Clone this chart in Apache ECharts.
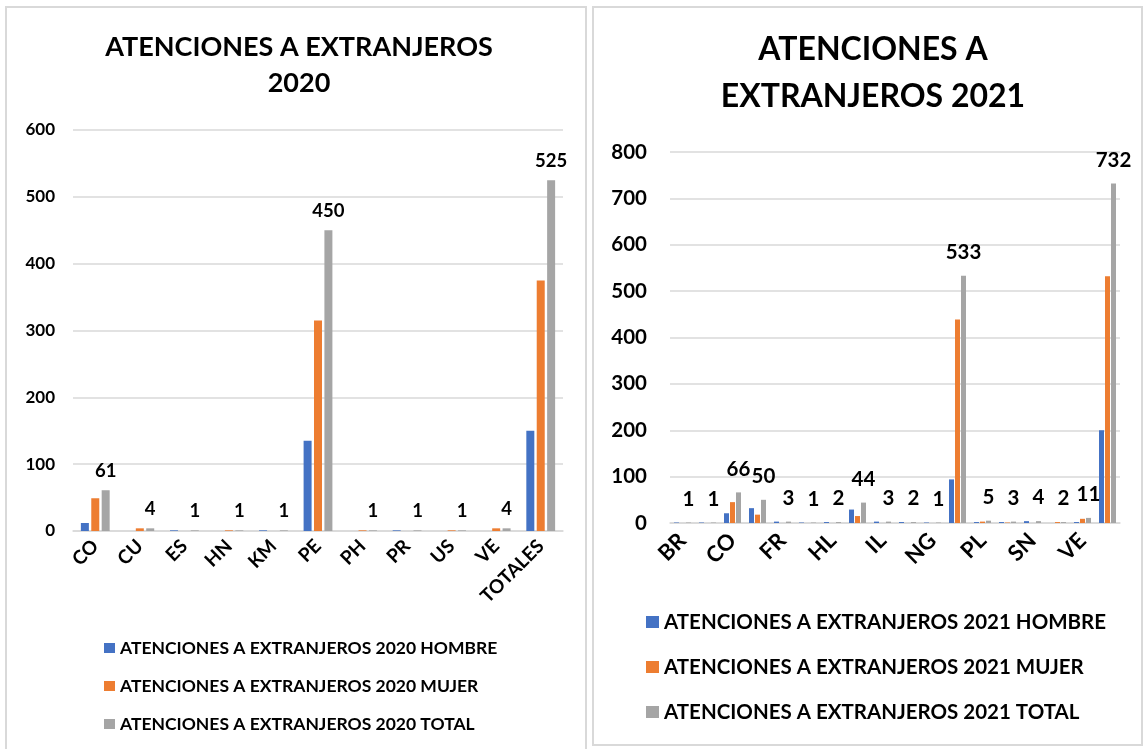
<!DOCTYPE html>
<html>
<head>
<meta charset="utf-8">
<script src="https://cdn.jsdelivr.net/npm/echarts@6/dist/echarts.min.js"></script>
<style>
  html, body { margin: 0; padding: 0; background: #fff; }
  #main { width: 1145px; height: 749px; }
</style>
</head>
<body>
<div id="main"></div>
<script>
  var cats2020 = ['CO', 'CU', 'ES', 'HN', 'KM', 'PE', 'PH', 'PR', 'US', 'VE', 'TOTALES'];
  var hombre2020 = [12, 0, 1, 0, 1, 135, 0, 1, 0, 0, 150];
  var mujer2020 = [49, 4, 0, 1, 0, 315, 1, 0, 1, 4, 375];
  var total2020 = [61, 4, 1, 1, 1, 450, 1, 1, 1, 4, 525];

  var cats2021 = ['BR', 'CL', 'CO', 'CU', 'FR', 'GT', 'HL', 'HN', 'IL', 'KM', 'NG', 'PE', 'PL', 'PR', 'SN', 'US', 'VE', 'TOTALES'];
  var hombre2021 = [1, 1, 21, 32, 3, 1, 2, 29, 3, 2, 1, 94, 2, 2, 4, 0, 2, 200];
  var mujer2021 = [0, 0, 45, 18, 0, 0, 0, 15, 0, 0, 0, 439, 3, 1, 0, 2, 9, 532];
  var total2021 = [1, 1, 66, 50, 3, 1, 2, 44, 3, 2, 1, 533, 5, 3, 4, 2, 11, 732];

  var names2020 = ['ATENCIONES A EXTRANJEROS 2020 HOMBRE', 'ATENCIONES A EXTRANJEROS 2020 MUJER', 'ATENCIONES A EXTRANJEROS 2020 TOTAL'];
  var names2021 = ['ATENCIONES A EXTRANJEROS 2021 HOMBRE', 'ATENCIONES A EXTRANJEROS 2021 MUJER', 'ATENCIONES A EXTRANJEROS 2021 TOTAL'];

  var colors = ['#4472C4', '#ED7D31', '#A5A5A5'];
  var FONT = 'Lato';

  var chart = echarts.init(document.getElementById('main'));

  function barSeries(name, data, xi, bw, gap, showLabel, labelSize, dist) {
    return {
      name: name,
      type: 'bar',
      xAxisIndex: xi,
      yAxisIndex: xi,
      data: data,
      barWidth: bw,
      barGap: gap,
      label: {
        show: showLabel,
        position: 'top',
        distance: dist,
        fontFamily: FONT,
        fontWeight: 'bold',
        fontSize: labelSize,
        color: '#000'
      }
    };
  }

  var axisText = function (size) {
    return { fontFamily: FONT, fontWeight: 'bold', fontSize: size, color: '#000' };
  };

  var option = {
    color: colors,
    animation: false,
    graphic: [
      { type: 'rect', shape: { x: 6, y: 7, width: 580, height: 760 }, style: { fill: 'none', stroke: '#d9d9d9', lineWidth: 2 } },
      { type: 'rect', shape: { x: 593, y: 7, width: 549, height: 738 }, style: { fill: 'none', stroke: '#d9d9d9', lineWidth: 2 } }
    ],
    title: [
      {
        text: 'ATENCIONES A EXTRANJEROS\n2020',
        left: 299, top: 29, textAlign: 'center', padding: 0,
        textStyle: { fontFamily: FONT, fontWeight: 'bold', fontSize: 27, lineHeight: 36, color: '#000' }
      },
      {
        text: 'ATENCIONES A\nEXTRANJEROS 2021',
        left: 873, top: 26, textAlign: 'center', padding: 0,
        textStyle: { fontFamily: FONT, fontWeight: 'bold', fontSize: 32, lineHeight: 47, color: '#000' }
      }
    ],
    legend: [
      {
        data: names2020, orient: 'vertical', left: 104, top: 639, padding: 0,
        itemWidth: 11, itemHeight: 10, itemGap: 20, icon: 'rect',
        textStyle: { fontFamily: FONT, fontWeight: 'bold', fontSize: 17.5, lineHeight: 18, color: '#000' }
      },
      {
        data: names2021, orient: 'vertical', left: 646, top: 611, padding: 0,
        itemWidth: 13, itemHeight: 12, itemGap: 23, icon: 'rect',
        textStyle: { fontFamily: FONT, fontWeight: 'bold', fontSize: 20.5, lineHeight: 22, color: '#000' }
      }
    ],
    grid: [
      { left: 73, top: 130, width: 490, height: 401, containLabel: false },
      { left: 670, top: 152, width: 450, height: 371, containLabel: false }
    ],
    xAxis: [
      {
        type: 'category', gridIndex: 0, data: cats2020,
        axisLine: { lineStyle: { color: '#d9d9d9', width: 1.5 } },
        axisTick: { show: false },
        axisLabel: Object.assign({ rotate: 45, margin: 12, interval: 0 }, axisText(19))
      },
      {
        type: 'category', gridIndex: 1, data: cats2021,
        axisLine: { lineStyle: { color: '#d9d9d9', width: 1.5 } },
        axisTick: { show: false },
        axisLabel: Object.assign({ rotate: 45, margin: 14, interval: 1 }, axisText(22))
      }
    ],
    yAxis: [
      {
        type: 'value', gridIndex: 0, min: 0, max: 600, interval: 100,
        axisLine: { show: false }, axisTick: { show: false },
        splitLine: { lineStyle: { color: '#d9d9d9', width: 1.5 } },
        axisLabel: Object.assign({ margin: 18 }, axisText(17))
      },
      {
        type: 'value', gridIndex: 1, min: 0, max: 800, interval: 100,
        axisLine: { show: false }, axisTick: { show: false },
        splitLine: { lineStyle: { color: '#d9d9d9', width: 1.5 } },
        axisLabel: Object.assign({ margin: 23 }, axisText(20.5))
      }
    ],
    series: [
      barSeries(names2020[0], hombre2020, 0, 8, '30%', false, 18.5, 10),
      barSeries(names2020[1], mujer2020, 0, 8, '30%', false, 18.5, 10),
      barSeries(names2020[2], total2020, 0, 8, '30%', true, 18.5, 10),
      barSeries(names2021[0], hombre2021, 1, 5, '20%', false, 20.5, 13),
      barSeries(names2021[1], mujer2021, 1, 5, '20%', false, 20.5, 13),
      barSeries(names2021[2], total2021, 1, 5, '20%', true, 20.5, 13)
    ]
  };

  chart.setOption(option);
</script>
</body>
</html>
